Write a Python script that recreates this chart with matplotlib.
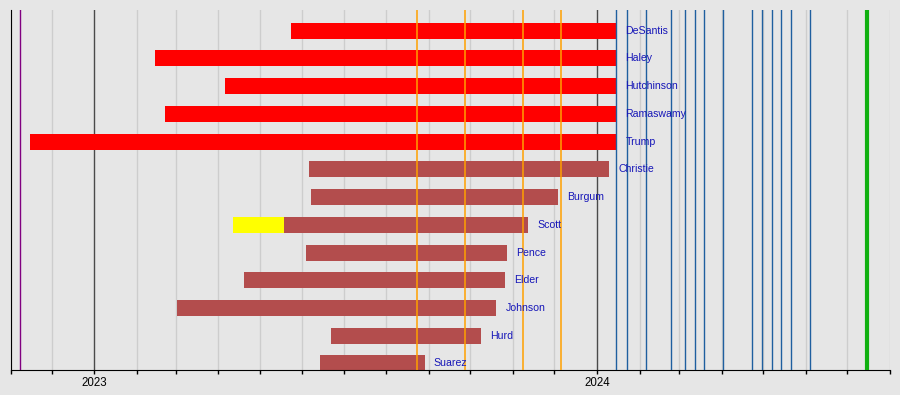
import matplotlib
matplotlib.use("Agg")
import matplotlib.pyplot as plt
import matplotlib.dates as mdates
from datetime import datetime

plt.rcParams['font.family'] = ['Liberation Sans', 'DejaVu Sans']

# ---- data ----
candidates = ["DeSantis", "Haley", "Hutchinson", "Ramaswamy", "Trump",
              "Christie", "Burgum", "Scott", "Pence", "Elder", "Johnson",
              "Hurd", "Suarez"]
starts = ["2023-05-24", "2023-02-14", "2023-04-06", "2023-02-21", "2022-11-15",
          "2023-06-06", "2023-06-07", "2023-05-19", "2023-06-04", "2023-04-20",
          "2023-03-02", "2023-06-22", "2023-06-14"]
ends = ["2024-01-15", "2024-01-15", "2024-01-15", "2024-01-15", "2024-01-15",
        "2024-01-10", "2023-12-04", "2023-11-12", "2023-10-28", "2023-10-26",
        "2023-10-20", "2023-10-09", "2023-08-29"]
status = ["active", "active", "active", "active", "active",
          "withdrawn", "withdrawn", "withdrawn", "withdrawn", "withdrawn",
          "withdrawn", "withdrawn", "withdrawn"]
exploratory_name = "Scott"
exploratory_start = "2023-04-12"
exploratory_end = "2023-05-19"

midterm_dates = ["2022-11-08"]
debate_dates = ["2023-08-23", "2023-09-27", "2023-11-08", "2023-12-06"]
primary_dates = ["2024-01-15", "2024-01-23", "2024-02-06", "2024-02-24",
                 "2024-03-05", "2024-03-12", "2024-03-19", "2024-04-02",
                 "2024-04-23", "2024-04-30", "2024-05-07", "2024-05-14",
                 "2024-05-21", "2024-06-04"]
convention_dates = ["2024-07-15"]

x_start = "2022-11-01"
x_end = "2024-08-01"

# ---- styles ----
bg = "#e6e6e6"
colors = {"active": "#ff0000", "withdrawn": "#b34d4d"}
explore_color = "#ffff00"
label_color = "#1616b8"

def d(s):
    return mdates.date2num(datetime.strptime(s, "%Y-%m-%d"))

fig = plt.figure(figsize=(9, 3.95), dpi=100, facecolor=bg)
ax = fig.add_axes([10.5/900, 25/395, (890-10.5)/900, 360/395])
ax.set_facecolor(bg)

ax.xaxis.set_major_locator(mdates.YearLocator())
ax.xaxis.set_minor_locator(mdates.MonthLocator())
ax.xaxis.set_major_formatter(mdates.DateFormatter("%Y"))
ax.set_xlim(d(x_start), d(x_end))

ax.set_ylim(12.236, -0.746)

ax.grid(which="minor", axis="x", color="#cdcdcd", linewidth=1.0, zorder=0)
ax.grid(which="major", axis="x", color="#4a4a4a", linewidth=1.0, zorder=0)
ax.set_axisbelow(True)

h = 0.577
for i, (name, s, e, st) in enumerate(zip(candidates, starts, ends, status)):
    ax.barh(i, d(e) - d(s), left=d(s), height=h, color=colors[st],
            edgecolor="none", zorder=2)
    ax.annotate(name, xy=(d(e), i), xytext=(6.6, 0), textcoords="offset points",
                va="center", ha="left", fontsize=7.6, color=label_color,
                zorder=5)
    if name == exploratory_name:
        ax.barh(i, d(exploratory_end) - d(exploratory_start),
                left=d(exploratory_start), height=h, color=explore_color,
                edgecolor="none", zorder=2)

for x in midterm_dates:
    ax.axvline(d(x), color="#800080", linewidth=1.0, zorder=3)
for x in debate_dates:
    ax.axvline(d(x), color="#ffa000", linewidth=1.1, zorder=3)
for x in primary_dates:
    ax.axvline(d(x), color="#1f5f9f", linewidth=1.0, zorder=3)
for x in convention_dates:
    ax.axvline(d(x), color="#10b010", linewidth=3.0, zorder=3)

for sp in ["top", "right"]:
    ax.spines[sp].set_visible(False)
ax.spines["left"].set_color("black")
ax.spines["bottom"].set_color("black")

ax.set_yticks([])
ax.tick_params(axis="x", which="both", direction="out", length=3.2,
               width=1.0, color="black", labelsize=8.3, pad=2)
ax.tick_params(axis="x", which="minor", labelbottom=False)

fig.savefig("out.png", dpi=100, facecolor=bg)
